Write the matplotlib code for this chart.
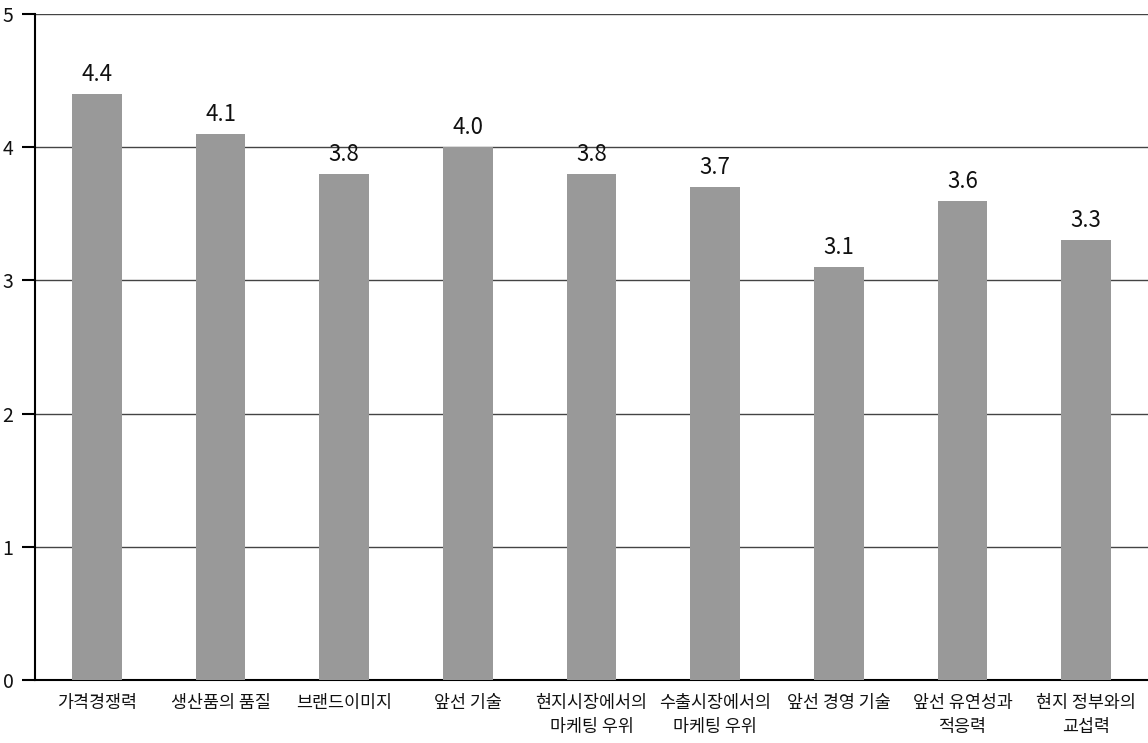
import matplotlib
matplotlib.use('Agg')
from matplotlib import pyplot as plt

plt.rcParams['font.family'] = ['Noto Sans CJK KR', 'DejaVu Sans']

categories = ['가격경쟁력', '생산품의 품질', '브랜드이미지', '앞선 기술',
              '현지시장에서의\n마케팅 우위', '수출시장에서의\n마케팅 우위',
              '앞선 경영 기술', '앞선 유연성과\n적응력', '현지 정부와의\n교섭력']
values = [4.4, 4.1, 3.8, 4.0, 3.8, 3.7, 3.1, 3.6, 3.3]
labels = ['4.4', '4.1', '3.8', '4.0', '3.8', '3.7', '3.1', '3.6', '3.3']

fig = plt.figure(figsize=(11.48, 7.43), dpi=100)
ax = fig.add_axes([0.0305, 0.0848, 0.9695, 0.8963])

x = list(range(len(categories)))
ax.bar(x, values, width=0.4, color='#999999', zorder=3)
for xi, v, t in zip(x, values, labels):
    ax.text(xi, v + 0.06, t, ha='center', va='bottom', fontsize=16,
            fontweight='medium', color='#111111')

ax.set_xlim(-0.5, len(categories) - 0.5)
ax.set_ylim(0, 5)
ax.set_yticks([0, 1, 2, 3, 4, 5])
ax.yaxis.grid(True, color='#444444', linewidth=1, zorder=0)
ax.set_xticks(x)
ax.set_xticklabels(categories, fontsize=12.5, linespacing=1.45, color='#111111')
ax.tick_params(axis='x', length=0, pad=10)
ax.tick_params(axis='y', length=9.5, width=1.5, labelsize=14, pad=6, labelcolor='#111111')
for side in ['top', 'right']:
    ax.spines[side].set_visible(False)
ax.spines['left'].set_linewidth(1.5)
ax.spines['bottom'].set_linewidth(1.5)

fig.savefig('out.png', dpi=100)
